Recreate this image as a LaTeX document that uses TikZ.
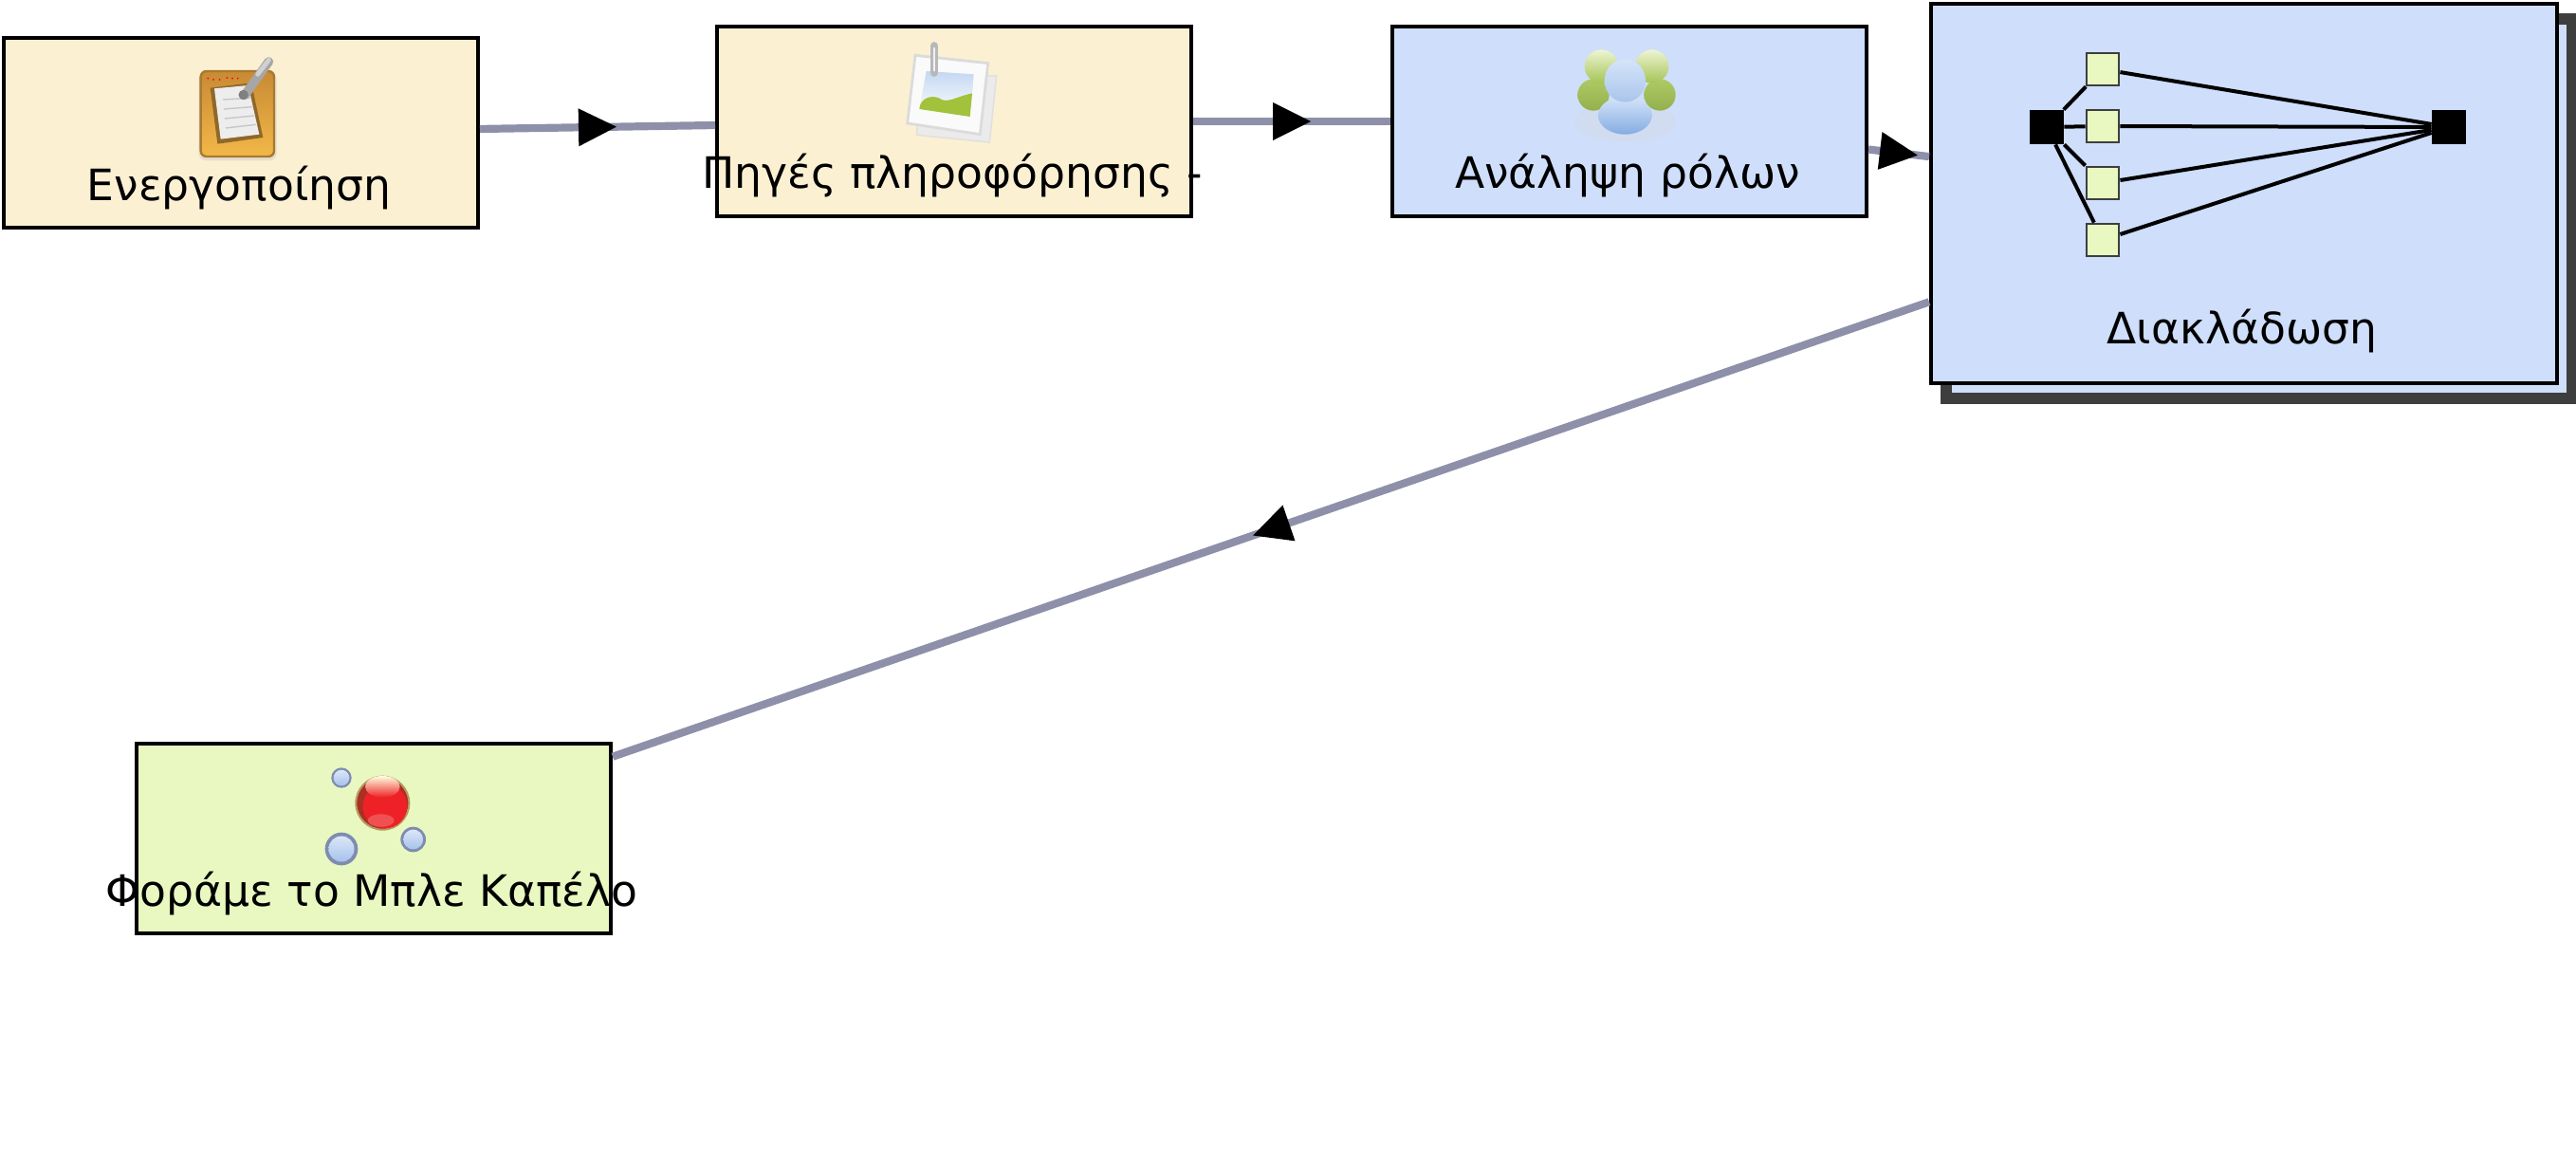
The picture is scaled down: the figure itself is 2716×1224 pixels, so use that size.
\documentclass[tikz,border=0pt]{standalone}
\usepackage{fontspec}
\setmainfont{DejaVu Sans}
\usetikzlibrary{decorations.markings}
\definecolor{cream}{HTML}{FCF0D3}
\definecolor{paleblue}{HTML}{CEDEFB}
\definecolor{palegreen}{HTML}{E8F8C0}
\definecolor{flowgray}{HTML}{8E90AA}
\definecolor{shadowgray}{HTML}{3E3E3E}
\definecolor{boardtop}{HTML}{C88A34}
\definecolor{boardbot}{HTML}{F2B848}
\definecolor{boardedge}{HTML}{A87A30}
\definecolor{sky}{HTML}{C4D8F2}
\definecolor{hill}{HTML}{A2C23C}
\definecolor{leaf}{HTML}{A4C455}
\definecolor{leafhi}{HTML}{EEF4D2}
\definecolor{bluebody}{HTML}{84ACE2}
\definecolor{bluehi}{HTML}{D6E4F9}
\definecolor{ballred}{HTML}{EE2226}
\definecolor{balldark}{HTML}{A83024}
\definecolor{ballrim}{HTML}{B89A60}
\definecolor{bubbleedge}{HTML}{7F8CB0}
\definecolor{bubble}{HTML}{A6C2EC}
\tikzset{
  x=0.5pt,y=-0.5pt,
  taskbox/.style={draw=black,line width=2pt,inner sep=0pt,minimum width=250pt,minimum height=100pt},
  bigbox/.style={draw=black,line width=2pt,fill=paleblue,inner sep=0pt,minimum width=330pt,minimum height=200pt},
  shadowbox/.style={draw=shadowgray,line width=5.8pt,fill=paleblue,inner sep=0pt,minimum width=330pt,minimum height=200pt},
  caption/.style={anchor=base,inner sep=0pt,font=\fontsize{22.8pt}{26pt}\selectfont,text=black},
  flow/.style={draw=flowgray,line width=4.1pt,postaction={decorate},
    decoration={markings,mark=at position 0.5 with {\fill[black] (-10pt,-10pt)--(10pt,0pt)--(-10pt,10pt)--cycle;}}},
  gatebar/.style={fill=black,draw=none,inner sep=0pt,minimum width=18pt,minimum height=18pt},
  gatecell/.style={fill=palegreen,draw=shadowgray,line width=1.4pt,inner sep=0pt,minimum width=17pt,minimum height=17pt},
  gateline/.style={draw=black,line width=2pt},
  icon/.style 2 args={shift={(#1,#2)},x=0.16667pt,y=-0.16667pt},
}
\begin{document}
\begin{tikzpicture}
\useasboundingbox (0,0) rectangle (2716,1224);
% boxes
\node[taskbox,fill=cream] (act) at (254,140) {};
\node[taskbox,fill=cream] (src) at (1006,128) {};
\node[taskbox,fill=paleblue] (roles) at (1718,128) {};
\node[shadowbox] (back) at (2382,220) {};
\node[bigbox] (fork) at (2366,204) {};
\node[taskbox,fill=palegreen] (hat) at (394,884) {};
% connectors
\draw[flow] (act) -- (src);
\draw[flow] (src) -- (roles);
\draw[flow] (roles) -- (fork);
\draw[flow] (fork) -- (hat);
% gateway inside the fork box
\node[gatebar] (gl) at (2158,134) {};
\node[gatebar] (gr) at (2582,134) {};
\node[gatecell] (c1) at (2217,73) {};
\node[gatecell] (c2) at (2217,133) {};
\node[gatecell] (c3) at (2217,193) {};
\node[gatecell] (c4) at (2217,253) {};
\foreach \c in {c1,c2,c3,c4}{
  \draw[gateline] (gl) -- (\c);
  \draw[gateline] (\c) -- (gr);
}
% clipboard icon
\begin{scope}[icon={190}{50}]
  \fill[black!25,opacity=.35,rounded corners=4pt] (58,78) rectangle (305,358);
  \draw[draw=boardedge,line width=1.2pt,rounded corners=3pt,top color=boardtop,bottom color=boardbot] (65,75) rectangle (297,345);
  \fill[boardedge!85!black] (95,128) -- (225,112) -- (262,285) -- (118,305) -- cycle;
  \fill[black!7] (108,130) -- (215,120) -- (250,275) -- (128,290) -- cycle;
  \foreach \k in {0,1,2,3}{\draw[black!22,line width=.7pt] (135+3*\k,165+30*\k) -- (222+6*\k,160+28*\k);}
  \draw[black!35,line width=4.8pt,line cap=round] (205,150) -- (280,45);
  \draw[black!18,line width=2.4pt,line cap=round] (245,85) -- (280,40);
  \fill[black!50] (200,150) circle (2.6pt);
  \foreach \x/\y in {88/98,105/102,125/102,148/96,165/98,182/98}{\fill[red] (\x,\y) circle (.5pt);}
\end{scope}
% picture icon
\begin{scope}[icon={940}{35}]
  \fill[black!8,draw=black!12,line width=.8pt] (90,130) -- (332,135) -- (310,345) -- (80,322) -- cycle;
  \fill[black!2,draw=black!14,line width=1.4pt] (75,70) -- (305,95) -- (280,320) -- (50,285) -- cycle;
  \shade[top color=sky,bottom color=white] (110,120) -- (260,130) -- (250,262) -- (88,240) -- cycle;
  \fill[hill] (88,240) .. controls (90,205) and (125,195) .. (150,205) .. controls (175,225) and (205,200) .. (255,190) -- (248,264) -- cycle;
  \draw[black!28,line width=4.2pt,line cap=round] (135,40) -- (135,125);
  \draw[black!6,line width=1.4pt,line cap=round] (135,48) -- (135,118);
\end{scope}
% people icon
\begin{scope}[icon={1650}{40}]
  \fill[black!15,opacity=.3] (190,265) ellipse [x radius=160,y radius=65];
  \foreach \hx/\bx in {115/90,275/300}{
    \shade[top color=leaf!90!white,bottom color=leaf!90!black] (\bx,180) ellipse [x radius=50,y radius=50];
    \shade[top color=leafhi,bottom color=leaf] (\hx,90) ellipse [x radius=53,y radius=53];
  }
  \shade[top color=bluehi,bottom color=bluebody] (190,245) ellipse [x radius=85,y radius=60];
  \shade[top color=bluehi,bottom color=bluebody!70!white] (190,135) ellipse [x radius=65,y radius=68];
\end{scope}
% molecule icon
\begin{scope}[icon={330}{800}]
  \fill[balldark,draw=ballrim,line width=1pt] (220,140) circle (14pt);
  \fill[ballred] (228,150) ellipse [x radius=70,y radius=70];
  \shade[top color=yellow!12!white,bottom color=ballred] (220,88) ellipse [x radius=55,y radius=34];
  \fill[ballred!65!white,opacity=.6] (215,195) ellipse [x radius=42,y radius=20];
  \foreach \bx/\by/\br in {90/60/32,90/285/52,317/255/40}{
    \fill[bubbleedge] (\bx,\by) ellipse [x radius=\br,y radius=\br];
    \shade[top color=bubble!40!white,bottom color=bubble] (\bx,\by) ellipse [x radius=\br*0.78,y radius=\br*0.78];
  }
\end{scope}
% captions
\node[caption] (actl) at (252,212) {Ενεργοποίηση};
\node[caption] (srcl) at (1004,199) {Πηγές πληροφόρησης -};
\node[caption] (rolesl) at (1716,199) {Ανάληψη ρόλων};
\node[caption] (forkl) at (2364,363) {Διακλάδωση};
\node[caption] (hatl) at (392,955) {Φοράμε το Μπλε Καπέλο};
\end{tikzpicture}
\end{document}
